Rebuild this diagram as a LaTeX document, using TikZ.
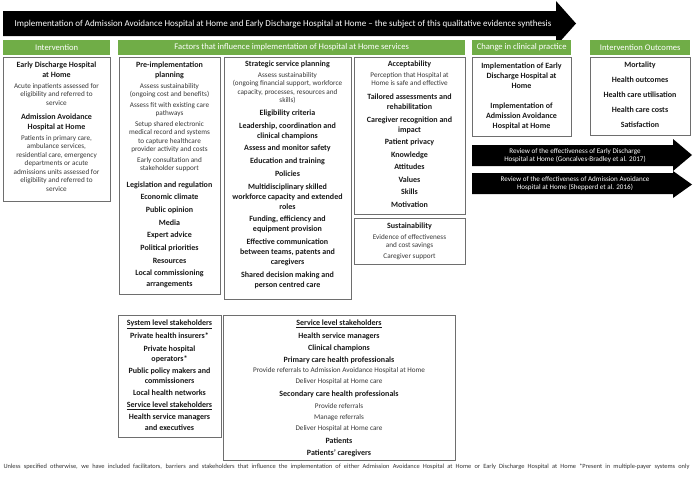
\documentclass[tikz,border=0pt]{standalone}
\usepackage{fontspec}
\setmainfont{Carlito}
\definecolor{hgreen}{HTML}{70AD47}
\definecolor{bgray}{HTML}{6E6E6E}
\newcommand\fB{\fontsize{8}{9}\selectfont\bfseries\color{black!90}}
\newcommand\fS{\fontsize{7.2}{8}\selectfont\color{black!78}}
\newcommand\fW{\fontsize{7.1}{8}\selectfont\color{white}}
\newcommand\txtlines[3]{\foreach \ly/\lf/\lt [count=\li] in {#3}{\node[ln, font=\csname f\lf\endcsname] (#1-\li) at (#2,\ly) {\lt};}}
\begin{document}
\begin{tikzpicture}[x=1pt,y=-1pt,
  box/.style={draw=bgray, line width=0.9pt, anchor=north west, inner sep=0pt, fill=white},
  hdr/.style={fill=hgreen, anchor=north west, inner sep=0pt, text=white, font=\fontsize{8.6}{10}\selectfont},
  ln/.style={inner sep=0pt, text height=5.5pt, text depth=1.5pt},
  arrowfill/.style={fill=black}]
\useasboundingbox (0,0) rectangle (693,480);
\fill[white] (0,0) rectangle (693,480);

% top arrow
\fill[arrowfill] (3,11) -- (556,11) -- (556,1) -- (576,23.5) -- (556,46) -- (556,36) -- (3,36) -- cycle;
\node[inner sep=0pt, text=white, font=\fontsize{9}{10}\selectfont] (toptext) at (283,24) {Implementation of Admission Avoidance Hospital at Home and Early Discharge Hospital at Home – the subject of this qualitative evidence synthesis};

% headers
\node[hdr, minimum width=107pt, minimum height=15pt] (hIntv) at (3,40) {Intervention};
\node[hdr, minimum width=347pt, minimum height=15pt] (hFact) at (118,40) {Factors that influence implementation of Hospital at Home services};
\node[hdr, minimum width=99pt, minimum height=15pt] (hChange) at (472,40) {Change in clinical practice};
\node[hdr, minimum width=100pt, minimum height=15pt] (hOut) at (590,40) {Intervention Outcomes};

% boxes
\node[box, minimum width=107pt, minimum height=144pt] (intv) at (3,57) {};
\node[box, minimum width=101pt, minimum height=237pt] (pre) at (119,57) {};
\node[box, minimum width=127pt, minimum height=242pt] (strat) at (224,57) {};
\node[box, minimum width=111pt, minimum height=157pt] (accept) at (354,57) {};
\node[box, minimum width=111pt, minimum height=46pt] (sust) at (354,218) {};
\node[box, minimum width=99pt, minimum height=79pt] (change) at (472,57) {};
\node[box, minimum width=100pt, minimum height=78pt] (out) at (590,57) {};
\node[box, minimum width=103pt, minimum height=122pt] (sys) at (118,315) {};
\node[box, minimum width=232pt, minimum height=145pt] (serv) at (223,315) {};

% review arrows
\fill[arrowfill] (472,145) -- (673,145) -- (673,139) -- (692,155) -- (673,171) -- (673,166) -- (472,166) -- cycle;
\fill[arrowfill] (472,173) -- (673,173) -- (673,171) -- (692,184.5) -- (673,198) -- (673,194) -- (472,194) -- cycle;

\txtlines{rev1}{575}{151.3/W/Review of the effectiveness of Early Discharge, 159.7/W/Hospital at Home (Goncalves-Bradley et al. 2017)}
\txtlines{rev2}{575}{179.3/W/Review of the effectiveness of Admission Avoidance, 187.7/W/Hospital at Home (Shepperd et al. 2016)}

% intervention content
\txtlines{it}{56.5}{65/B/Early Discharge Hospital, 75/B/at Home, 86/S/Acute inpatients assessed for, 94.5/S/eligibility and referred to, 103/S/service, 117/B/Admission Avoidance, 127/B/Hospital at Home, 138/S/{Patients in primary care,}, 146.5/S/{ambulance services,}, 155/S/{residential care, emergency}, 163.5/S/departments or acute, 172/S/admissions units assessed for, 180.5/S/eligibility and referred to, 189/S/service}

% pre-implementation content
\txtlines{pr}{169.5}{65/B/Pre-implementation, 75/B/planning, 86/S/Assess sustainability, 94.5/S/(ongoing cost and benefits), 105/S/Assess fit with existing care, 113.5/S/pathways, 124/S/Setup shared electronic, 132.5/S/medical record and systems, 141/S/to capture healthcare, 149.5/S/provider activity and costs, 160/S/Early consultation and, 168.5/S/stakeholder support, 185/B/Legislation and regulation, 197.7/B/Economic climate, 210.4/B/Public opinion, 223.1/B/Media, 235.8/B/Expert advice, 248.5/B/Political priorities, 261.2/B/Resources, 273.9/B/Local commissioning, 284/B/arrangements}

% strategic content
\txtlines{st}{287.5}{64/B/Strategic service planning, 75/S/Assess sustainability, 83.5/S/{(ongoing financial support, workforce}, 92/S/{capacity, processes, resources and}, 100.5/S/skills), 113.5/B/Eligibility criteria, 126.2/B/{Leadership, coordination and}, 136.2/B/clinical champions, 148.9/B/Assess and monitor safety, 161.6/B/Education and training, 174.3/B/Policies, 187/B/Multidisciplinary skilled, 197/B/workforce capacity and extended, 207/B/roles, 219.7/B/{Funding, efficiency and}, 229.7/B/equipment provision, 242.4/B/Effective communication, 252.4/B/{between teams, patents and}, 262.4/B/caregivers, 275.1/B/Shared decision making and, 285.1/B/person centred care}

% acceptability content
\txtlines{ac}{409.5}{64/B/Acceptability, 75/S/Perception that Hospital at, 83.5/S/Home is safe and effective, 97.5/B/Tailored assessments and, 107.5/B/rehabilitation, 120/B/Caregiver recognition and, 130/B/impact, 142.5/B/Patient privacy, 155/B/Knowledge, 167.5/B/Attitudes, 180/B/Values, 192.5/B/Skills, 205/B/Motivation}

% sustainability content
\txtlines{su}{409.5}{226/B/Sustainability, 237/S/Evidence of effectiveness, 245.5/S/and cost savings, 256/S/Caregiver support}

% change content
\txtlines{ch}{521.5}{66/B/Implementation of Early, 76/B/Discharge Hospital at, 86/B/Home, 106/B/Implementation of, 116/B/Admission Avoidance, 126/B/Hospital at Home}

% outcomes content
\txtlines{oc}{640}{65/B/Mortality, 80/B/Health outcomes, 95/B/Health care utilisation, 110/B/Health care costs, 125.5/B/Satisfaction}

% system level stakeholders
\txtlines{sy}{169.5}{323.3/B/\underline{System level stakeholders}, 336/B/Private health insurers*, 349/B/Private hospital, 359/B/operators*, 371/B/Public policy makers and, 381/B/commissioners, 393/B/Local health networks, 405.3/B/\underline{Service level stakeholders}, 417.7/B/Health service managers, 428/B/and executives}

% service level stakeholders
\txtlines{sv}{339}{323.3/B/\underline{Service level stakeholders}, 336/B/Health service managers, 348.7/B/Clinical champions, 360.7/B/Primary care health professionals, 370.3/S/Provide referrals to Admission Avoidance Hospital at Home, 381.7/S/Deliver Hospital at Home care, 394/B/Secondary care health professionals, 406/S/Provide referrals, 417/S/Manage referrals, 428.7/S/Deliver Hospital at Home care, 441.3/B/Patients, 453.3/B/Patients’ caregivers}

% footnote
\node[inner sep=0pt, font=\fontsize{6.4}{7}\selectfont, text=black!80] (note) at (346.5,467) {\makebox[686pt][s]{Unless specified otherwise, we have included facilitators, barriers and stakeholders that influence the implementation of either Admission Avoidance Hospital at Home or Early Discharge Hospital at Home *Present in multiple-payer systems only}};
\end{tikzpicture}
\end{document}
